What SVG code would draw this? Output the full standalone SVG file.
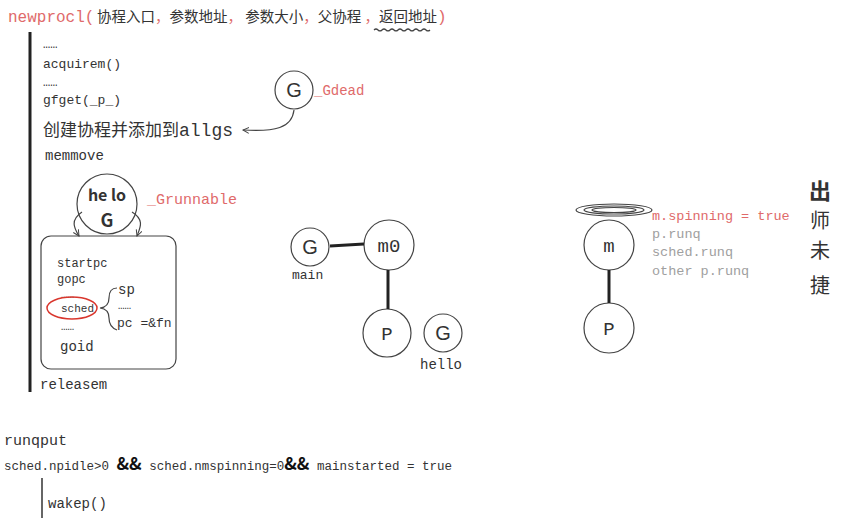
<svg xmlns="http://www.w3.org/2000/svg" width="867" height="528" viewBox="0 0 867 528">
<defs>
<style>
.mono{font-family:"Liberation Mono","DejaVu Sans Mono",monospace;fill:#333}
.cjk{font-family:"Noto Sans CJK SC",sans-serif;fill:#333}
.red{fill:#e06a6a}
.gray{fill:#a0a0a0}
.node{fill:#fff;stroke:#444;stroke-width:1.2}
.thick{stroke:#222;stroke-width:3;fill:none}
.thin{stroke:#444;stroke-width:1.2;fill:none}
</style>
<marker id="arr" markerWidth="8" markerHeight="8" refX="6" refY="4" orient="auto" markerUnits="userSpaceOnUse">
<path d="M0,1 L6,4 L0,7" fill="none" stroke="#444" stroke-width="1"/>
</marker>
</defs>
<rect width="867" height="528" fill="#fff"/>

<g id="title">
<text x="8" y="22" class="mono red" font-size="16">newprocl(</text>
<text x="97" y="22" class="cjk" font-size="14.5">协程入口<tspan class="red">，</tspan>参数地址<tspan class="red">，</tspan> 参数大小<tspan class="red">，</tspan>父协程 <tspan class="red">，</tspan>返回地址<tspan class="red" font-family="Liberation Mono" font-size="16">)</tspan></text>
<path d="M374,30 q2,-2 4,0 t4,0 t4,0 t4,0 t4,0 t4,0 t4,0 t4,0 t4,0 t4,0 t4,0 t4,0 t4,0 t4,0" class="thin" stroke="#333"/>
</g>

<g id="newproc-steps">
<line x1="30" y1="32" x2="30" y2="392" class="thick"/>
<text x="43" y="48" class="mono" font-size="12">……</text>
<text x="43" y="68" class="mono" font-size="13">acquirem()</text>
<text x="43" y="86" class="mono" font-size="12">……</text>
<text x="43" y="104" class="mono" font-size="13">gfget(_p_)</text>
<text x="43" y="136" class="cjk" font-size="17" fill="#222">创建协程并添加到<tspan font-family="Liberation Mono" font-size="18">allgs</tspan></text>
<text x="45" y="160" class="mono" font-size="14">memmove</text>
<text x="40" y="389" class="mono" font-size="14">releasem</text>
</g>

<g id="g-dead">
<circle cx="294" cy="90" r="19" class="node"/>
<text x="294" y="97" font-family="Liberation Sans" font-size="20" text-anchor="middle" fill="#333">G</text>
<text x="314" y="95" class="mono red" font-size="14">_Gdead</text>
</g>

<g id="hello-g">
<circle cx="107" cy="204" r="30" class="node"/>
<text x="107" y="201" class="cjk" font-size="16" font-weight="bold" text-anchor="middle" fill="#111">he lo</text>
<text x="107" y="227" class="cjk" font-size="18" font-weight="bold" text-anchor="middle" fill="#111">G</text>
<text x="147" y="204" class="mono red" font-size="15">_Grunnable</text>
</g>

<g id="g-struct">
<rect x="41" y="236" width="135" height="133" rx="10" class="thin" stroke-width="1.4"/>
<text x="57" y="267" class="mono" font-size="12">startpc</text>
<text x="57" y="283" class="mono" font-size="12">gopc</text>
<text x="61" y="298" class="mono" font-size="11">……</text>
<text x="61" y="312" class="mono" font-size="11">sched</text>
<ellipse cx="72" cy="308" rx="25" ry="11" fill="none" stroke="#d9372e" stroke-width="1.5"/>
<text x="61" y="330" class="mono" font-size="11">……</text>
<text x="60" y="351" class="mono" font-size="14">goid</text>
<path d="M117,288 q-8,0 -8,10 q0,9 -9,10 q9,1 9,10 q0,9 8,12" class="thin" stroke="#333"/>
<text x="118" y="294" class="mono" font-size="14">sp</text>
<text x="118" y="309" class="mono" font-size="11">……</text>
<text x="117" y="327" class="mono" font-size="13">pc =&amp;fn</text>
</g>

<g id="gmp">
<circle cx="310" cy="247" r="19" class="node"/>
<text x="310" y="254" font-family="Liberation Sans" font-size="20" text-anchor="middle" fill="#333">G</text>
<text x="292" y="279" class="mono" font-size="13">main</text>
<circle cx="389" cy="245" r="25" class="node"/>
<text x="389" y="252" class="mono" font-size="19" text-anchor="middle">m0</text>
<circle cx="387" cy="333" r="24" class="node"/>
<text x="387" y="340" class="mono" font-size="19" text-anchor="middle">P</text>
<circle cx="443" cy="333" r="19" class="node"/>
<text x="443" y="340" font-family="Liberation Sans" font-size="20" text-anchor="middle" fill="#333">G</text>
<text x="420" y="369" class="mono" font-size="14">hello</text>
</g>

<g id="spinning-m">
<ellipse cx="614" cy="210" rx="38" ry="6" class="thin"/>
<ellipse cx="614" cy="210" rx="30" ry="4" class="thin"/>
<ellipse cx="614" cy="210" rx="22" ry="2.5" class="thin"/>
<circle cx="609" cy="245" r="25" class="node"/>
<text x="609" y="252" class="mono" font-size="19" text-anchor="middle">m</text>
<circle cx="609" cy="328" r="25" class="node"/>
<text x="609" y="335" class="mono" font-size="19" text-anchor="middle">P</text>
<text x="652" y="220" class="mono red" font-size="13.5">m.spinning = true</text>
<text x="652" y="238" class="mono gray" font-size="13.5">p.runq</text>
<text x="652" y="256" class="mono gray" font-size="13.5">sched.runq</text>
<text x="652" y="275" class="mono gray" font-size="13.5">other p.runq</text>
</g>

<g id="note">
<text x="820" y="199" class="cjk" font-size="22" text-anchor="middle" fill="#111" font-weight="bold">出</text>
<text x="820" y="228" class="cjk" font-size="20" text-anchor="middle" fill="#111">师</text>
<text x="820" y="258" class="cjk" font-size="20" text-anchor="middle" fill="#111">未</text>
<text x="820" y="293" class="cjk" font-size="20" text-anchor="middle" fill="#111">捷</text>
</g>

<g id="runqput">
<text x="4" y="445" class="mono" font-size="15">runqput</text>
<text x="4" y="470" class="mono" font-size="12.5">sched.npidle&gt;0 <tspan font-family="Noto Sans CJK SC" font-weight="bold" font-size="17" fill="#111">&amp;&amp;</tspan> sched.nmspinning=0<tspan font-family="Noto Sans CJK SC" font-weight="bold" font-size="17" fill="#111">&amp;&amp;</tspan> mainstarted = true</text>
<line x1="42" y1="478" x2="42" y2="518" stroke="#333" stroke-width="1.5"/>
<text x="48" y="508" class="mono" font-size="14">wakep()</text>
</g>

<g id="connectors">
<path d="M294,110 C292,128 275,132 243,130" class="thin" marker-end="url(#arr)"/>
<line x1="330" y1="246" x2="364" y2="244" class="thick" stroke-width="2.5"/>
<line x1="388" y1="270" x2="388" y2="309" class="thick" stroke-width="2.5"/>
<line x1="609" y1="270" x2="609" y2="303" class="thick" stroke-width="2.5"/>
<path d="M82,212 C70,220 74,228 79,236" class="thin" marker-end="url(#arr)"/>
<path d="M132,212 C145,220 140,228 137,236" class="thin" marker-end="url(#arr)"/>
</g>
</svg>
